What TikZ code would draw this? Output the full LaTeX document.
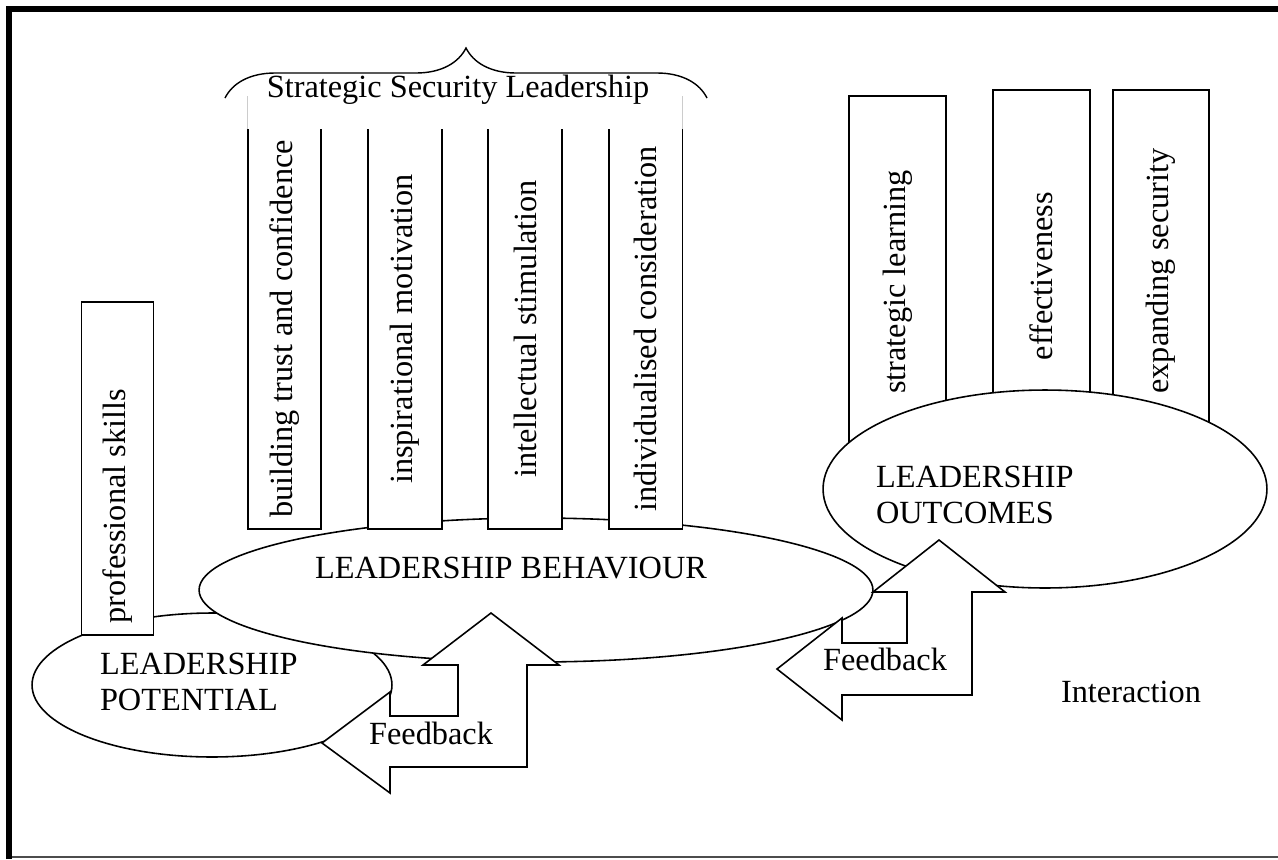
\documentclass[tikz,border=0pt]{standalone}
\usepackage{fontspec}
\setmainfont{Liberation Serif}
\usetikzlibrary{shapes.geometric, decorations.pathreplacing}

\begin{document}
\begin{tikzpicture}[x=0.02cm, y=-0.02cm, font=\fontsize{18.4}{20.8}\selectfont, bar/.style = {draw, fill=white, line width=0.9pt, inner sep=0, minimum width=1.44cm, minimum height=7.96cm}, openbar/.style = {bar, draw=none}, outbar/.style = {bar, minimum width=1.94cm}, oval/.style = {draw, ellipse, fill=white, line width=0.9pt, inner sep=0}, fback/.style = {draw, fill=white, line width=0.9pt, line join=miter}, label/.style = {inner sep=0, outer sep=0}]
  \useasboundingbox (0,0) rectangle (1278,859);
  \draw[line width=3.4pt] (9,859) -- (9,9) -- (1278,9);
  \draw[line width=0.8pt, black!70] (12,857) -- (1278,857);
  \node[oval, minimum width=7.2cm, minimum height=2.88cm] at (212, 685) (potential) {};
  \node[bar, minimum height=6.66cm] at (117.5, 468.5) (skills) {\rotatebox{90}{\makebox[6.2cm][l]{professional skills}}};
  \node[oval, minimum width=13.48cm, minimum height=2.88cm] at (536, 590) (behaviour) {};
  \node[openbar] at (284.5, 329) (trust) {\rotatebox{90}{building trust and confidence}};
  \node[openbar] at (405, 329) (motivation) {\rotatebox{90}{inspirational motivation}};
  \node[openbar] at (525, 329) (stimulation) {\rotatebox{90}{intellectual stimulation}};
  \node[openbar] at (645.5, 329) (consideration) {\rotatebox{90}{individualised consideration}};
  \draw[line width=0.9pt] (trust.north west) |- (trust.south east) -- (trust.north east);
  \draw[line width=0.9pt] (motivation.north west) |- (motivation.south east) -- (motivation.north east);
  \draw[line width=0.9pt] (stimulation.north west) |- (stimulation.south east) -- (stimulation.north east);
  \draw[line width=0.9pt] (consideration.north west) |- (consideration.south east) -- (consideration.north east);
  \draw[black!20, line width=0.5pt] (trust.north west) -- ++(0,-33);
  \draw[black!20, line width=0.5pt] (consideration.north east) -- ++(0,-33);
  \draw[decorate, decoration={brace, amplitude=1cm}, line width=0.8pt] (225,98) -- (707,98);
  \node[outbar, minimum height=7.44cm] at (897.5, 282) (learning) {\rotatebox{90}{strategic learning}};
  \node[outbar, minimum height=7.44cm] at (1041.5, 276) (effective) {\rotatebox{90}{effectiveness}};
  \node[outbar, minimum width=1.92cm, minimum height=7.24cm] at (1161, 271) (expanding) {\rotatebox{90}{expanding security}};
  \node[oval, minimum width=8.88cm, minimum height=3.96cm] at (1045, 489) (outcomes) {};
  \draw[fback] (322,743) -- (390,692) -- (390,716) -- (458,716) -- (458,665) -- (423,665) -- (491,613) -- (559,665) -- (527,665) -- (527,767) -- (390,767) -- (390,793) -- cycle;
  \draw[fback] (777,669) -- (842,618) -- (842,643) -- (907,643) -- (907,592) -- (873,592) -- (939,540) -- (1005,592) -- (972,592) -- (972,695) -- (842,695) -- (842,720) -- cycle;
  \node[label, anchor=base] at (458, 97) (ssl) {Strategic Security Leadership};
  \node[label] at (511, 568) (label1) {LEADERSHIP BEHAVIOUR};
  \node[label, anchor=west, align=left] at (100, 682) (label2) {LEADERSHIP\\POTENTIAL};
  \node[label, anchor=west, align=left] at (876, 495) (label3) {LEADERSHIP\\OUTCOMES};
  \node[label, anchor=base] at (431, 744) (label4) {Feedback};
  \node[label, anchor=base] at (885, 670) (label5) {Feedback};
  \node[label, anchor=base] at (1131, 702) (label6) {Interaction};
\end{tikzpicture}
\end{document}
